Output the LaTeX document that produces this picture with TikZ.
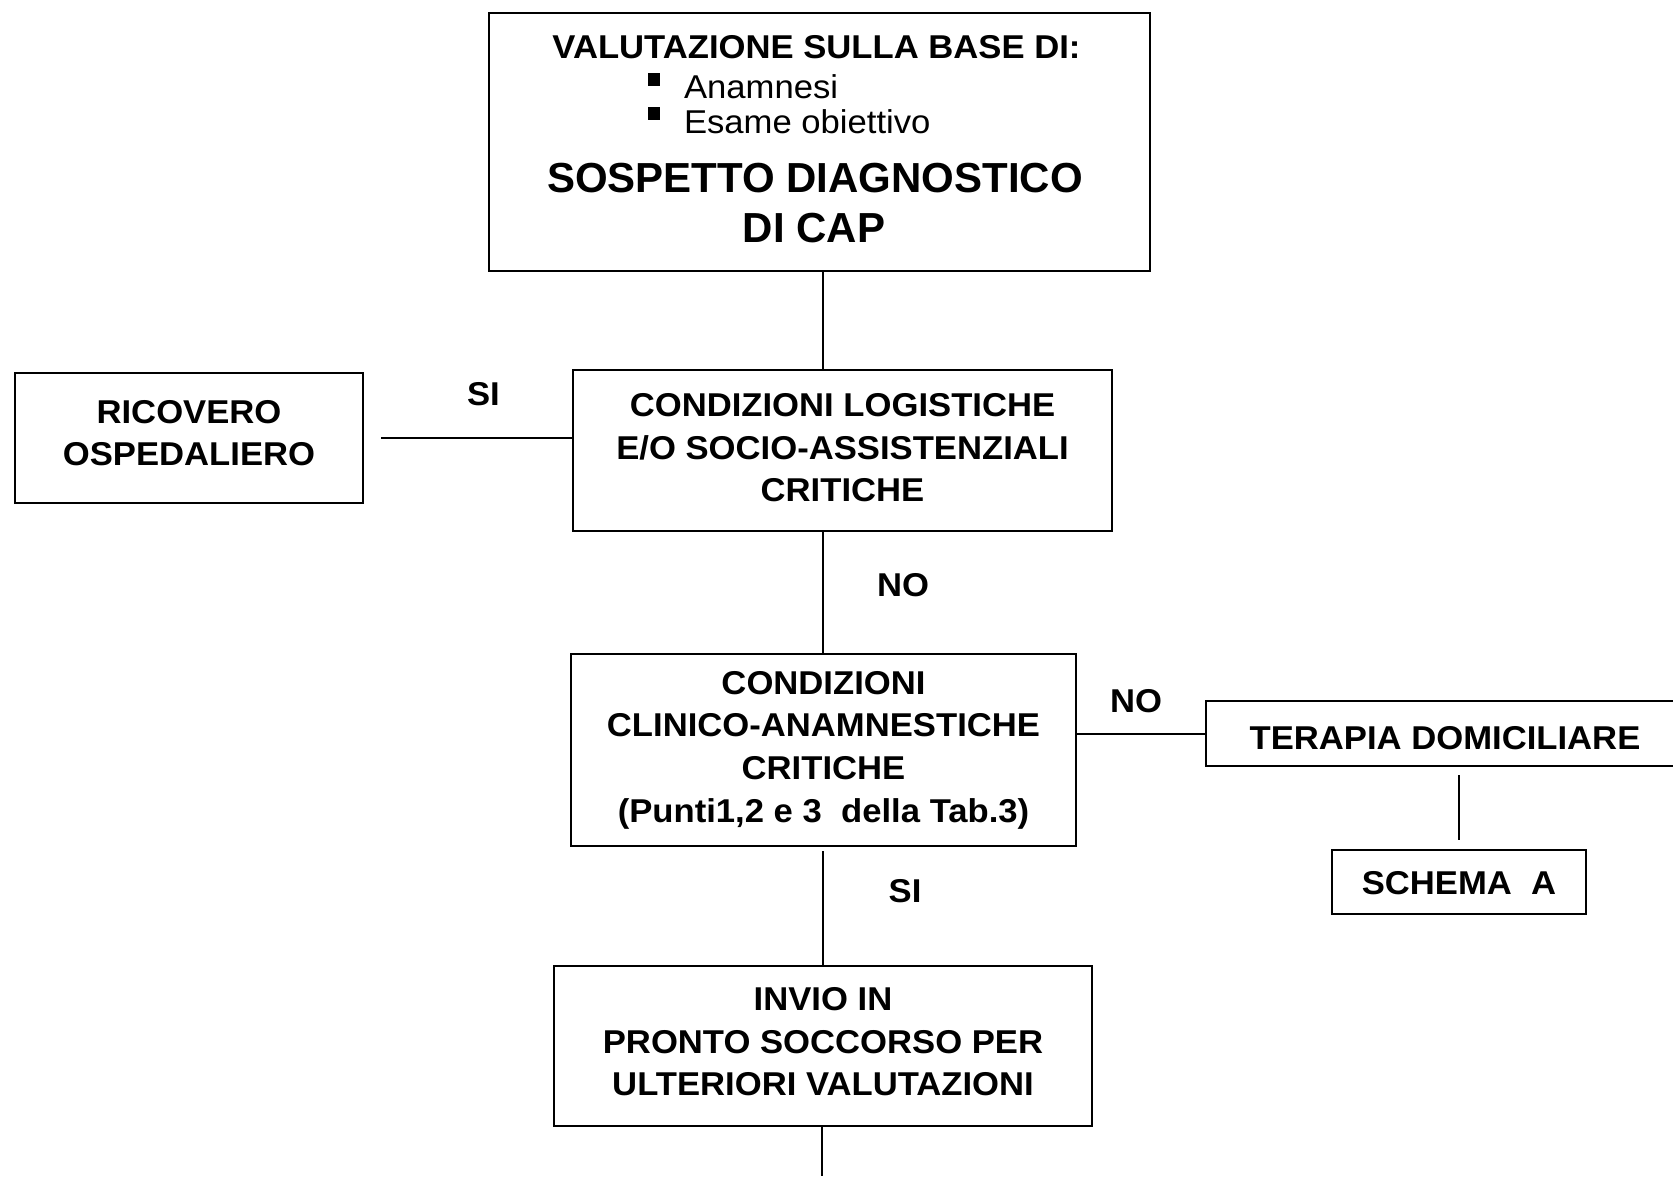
\documentclass[tikz,border=0pt]{standalone}
\usepackage{fontspec}
\setmainfont{Liberation Sans}
\newfontfamily\boxfont[FakeStretch=1.05]{Liberation Sans}
\begin{document}
\begin{tikzpicture}[x=1pt,y=-1pt]
\tikzset{
  every node/.style={inner sep=0pt, outer sep=0pt, text=black},
  box/.style={draw=black, line width=2pt, align=center,
    font=\boxfont\bfseries\fontsize{33}{42.7}\selectfont},
  lbl/.style={font=\boxfont\bfseries\fontsize{33}{38}\selectfont},
  item/.style={font=\boxfont\fontsize{33}{36}\selectfont},
  bigtext/.style={font=\bfseries\fontsize{42}{50}\selectfont},
  link/.style={draw=black, line width=2pt},
  thinlink/.style={draw=black, line width=1.3pt},
}
\fill[white] (0,0) rectangle (1673,1176);
\useasboundingbox (0,0) rectangle (1673,1176);

% initial assessment box
\node[box, minimum width=661, minimum height=258] (top) at (819.5,142) {};
\node[lbl, anchor=base] (head) at (816.5,58) {VALUTAZIONE SULLA BASE DI:};
\fill (648,73) rectangle (660,86);
\fill (648,107) rectangle (660,120);
\node[item, anchor=base west] (it1) at (684,98) {Anamnesi};
\node[item, anchor=base west] (it2) at (684,133) {Esame obiettivo};
\node[bigtext, anchor=base] (sus1) at (815,192) {SOSPETTO DIAGNOSTICO};
\node[bigtext, anchor=base] (sus2) at (814,242) {DI CAP};

% decision and outcome boxes
\node[box, minimum width=348, minimum height=130, text depth=10pt] (ric) at (189,438)
  {RICOVERO\\OSPEDALIERO};
\node[box, minimum width=539, minimum height=161, text depth=6pt] (log) at (842.5,450.5)
  {CONDIZIONI LOGISTICHE\\E/O SOCIO-ASSISTENZIALI\\CRITICHE};
\node[box, minimum width=505, minimum height=192] (clin) at (823.5,750)
  {CONDIZIONI\\CLINICO-ANAMNESTICHE\\CRITICHE\\(Punti1,2 e 3\ \ della Tab.3)};
\node[box, minimum width=478, minimum height=65, text height=32pt] (ter) at (1445,733.5)
  {TERAPIA DOMICILIARE};
\node[box, minimum width=254, minimum height=64, text height=26pt] (sch) at (1459,882)
  {SCHEMA\ \ A};
\node[box, minimum width=538, minimum height=160, text depth=8.5pt] (inv) at (823,1046)
  {INVIO IN\\PRONTO SOCCORSO PER\\ULTERIORI VALUTAZIONI};
\coordinate (tail) at (822,1176);

% connectors
\draw[link] (top.south -| 823,0) -- (log.north -| 823,0);
\draw[link, shorten <=18pt] (ric.east) -- (ric.east -| log.west);
\draw[link] (log.south -| 823,0) -- (clin.north -| 823,0);
\draw[link] (clin.east |- ter.west) -- (ter.west);
\draw[thinlink, shorten <=9pt, shorten >=10pt] (ter.south -| sch.north) -- (sch.north);
\draw[link, shorten <=5pt] (clin.south -| 823,0) -- (inv.north -| 823,0);
\draw[link] (inv.south -| tail) -- (tail);

% branch labels
\node[lbl] (si1) at (483.5,394) {SI};
\node[lbl] (no1) at (903,585) {NO};
\node[lbl] (no2) at (1136,701) {NO};
\node[lbl] (si2) at (905,891) {SI};
\end{tikzpicture}
\end{document}
